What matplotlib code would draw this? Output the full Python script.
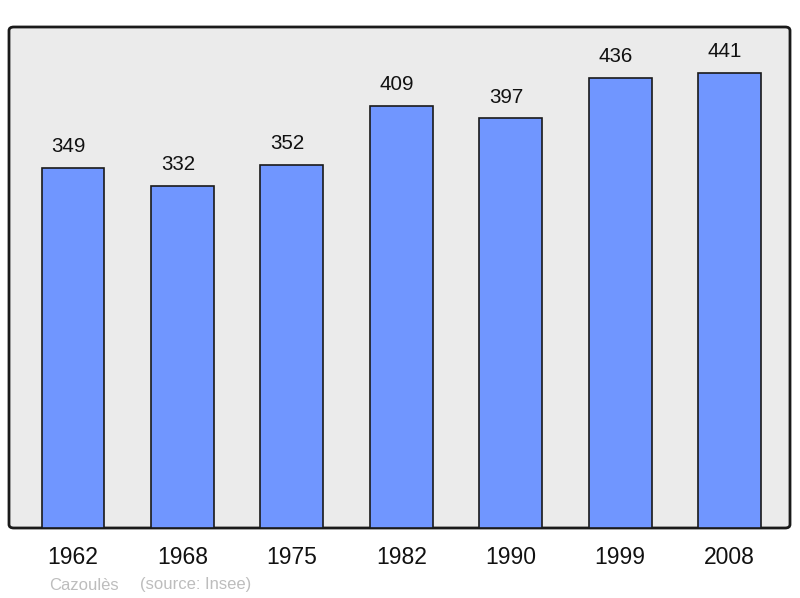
import matplotlib
matplotlib.use("Agg")
import matplotlib.pyplot as plt
from matplotlib.patches import FancyBboxPatch

years = ["1962", "1968", "1975", "1982", "1990", "1999", "2008"]
population = [349, 332, 352, 409, 397, 436, 441]
footer_name = "Cazoulès"
footer_source = "(source: Insee)"

plt.rcParams['font.family'] = ['Liberation Sans', 'DejaVu Sans']

fig = plt.figure(figsize=(8.0, 5.98), dpi=100)
L, B, W, H = 9/800, (598-528)/598, 781/800, 501/598
ax = fig.add_axes([L, B, W, H])
ax.set_facecolor('none')
ax.set_zorder(1)
for s in ax.spines.values():
    s.set_visible(False)

# rounded background frame
bg = FancyBboxPatch((L, B), W, H, boxstyle="round,pad=0,rounding_size=0.006",
                    transform=fig.transFigure, facecolor='#ebebeb',
                    edgecolor='#1a1a1a', linewidth=2.0, zorder=-1)
fig.patches.append(bg)

x = list(range(len(years)))
ax.bar(x, population, width=0.575, color='#7096ff', edgecolor='#1a1a1a', linewidth=1.2, zorder=2)
for xi, v in zip(x, population):
    ax.annotate(str(v), (xi, v), xytext=(-3.3, 8.5), textcoords='offset points',
                ha='center', va='bottom', fontsize=14.8, color='#111111')

ax.set_xlim(-0.585, 6.553)
ax.set_ylim(0, 485.7)
ax.set_yticks([])
ax.set_xticks(x)
ax.set_xticklabels(years, fontsize=16.5, color='#111111')
ax.tick_params(axis='x', length=0, pad=13)

fig.text(49/800, 1-585/598, footer_name, fontsize=12, color='#bdbdbd', ha='left', va='center')
fig.text(140/800, 1-585/598, footer_source, fontsize=12, color='#bdbdbd', ha='left', va='center')

fig.savefig("out.png", dpi=100)
